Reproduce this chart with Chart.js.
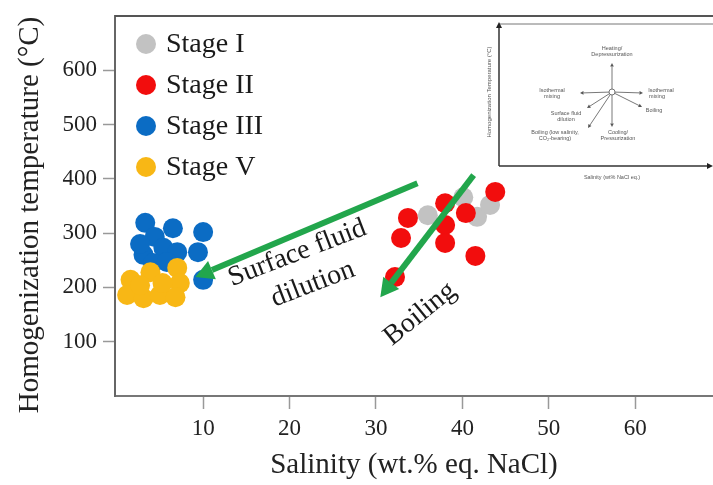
<!DOCTYPE html>
<html>
<head>
<meta charset="utf-8">
<script src="https://cdn.jsdelivr.net/npm/chart.js@4.4.1/dist/chart.umd.min.js"></script>
<style>
  html, body { margin: 0; padding: 0; background: #fff; overflow: hidden; }
  canvas { display: block; }
</style>
</head>
<body>
<canvas id="chart" width="713" height="485"></canvas>
<script>
// Fluid inclusion data: salinity (wt.% NaCl eq.) vs homogenization temperature (°C)
const seriesNames = ['Stage I', 'Stage II', 'Stage III', 'Stage V'];

const stage1Salinity = [36.0, 40.1, 41.7, 43.2];
const stage1Temp     = [333, 366, 330, 352];

const stage2Salinity = [43.8, 38.0, 33.7, 40.4, 38.0, 32.9, 38.0, 41.5, 32.2];
const stage2Temp     = [376, 355, 328, 337, 315, 291, 282, 258, 219];

const stage3Salinity = [3.3, 6.5, 10.0, 4.4, 9.4, 3.1, 5.4, 7.0, 4.2, 5.8, 10.0, 2.7];
const stage3Temp     = [319, 309, 302, 293, 265, 260, 273, 265, 245, 247, 214, 280];

const stage5Salinity = [1.6, 3.9, 7.0, 7.3, 1.2, 3.1, 5.0, 6.8, 5.3, 2.7];
const stage5Temp     = [214, 228, 236, 208, 186, 180, 186, 182, 208, 204];

const xTickValues = [10, 20, 30, 40, 50, 60];
const yTickValues = [100, 200, 300, 400, 500, 600];

const xTitle = 'Salinity (wt.% eq. NaCl)';
const yTitle = 'Homogenization temperature (\u00B0C)';

// Evolution trends drawn as arrows, in data units (salinity, temperature)
const trendArrows = [
  { from: [34.8, 392], to: [9.1, 219] },
  { from: [41.3, 407], to: [30.5, 182] }
];
const trendLabels = [
  { text: 'Surface fluid', at: [20.9, 263], angle: -21 },
  { text: 'dilution',      at: [22.7, 206], angle: -21 },
  { text: 'Boiling',       at: [35.1, 151], angle: -39 }
];

const palette = ['#c2c2c2', '#f20d0d', '#0b6cc4', '#f8b715'];
const serif = "'Liberation Serif', 'Times New Roman', serif";

function pairs(xs, ys) { return xs.map((x, i) => ({ x: x, y: ys[i] })); }

const datasets = [
  { label: seriesNames[0], data: pairs(stage1Salinity, stage1Temp), order: 4 },
  { label: seriesNames[1], data: pairs(stage2Salinity, stage2Temp), order: 3 },
  { label: seriesNames[2], data: pairs(stage3Salinity, stage3Temp), order: 2 },
  { label: seriesNames[3], data: pairs(stage5Salinity, stage5Temp), order: 1 }
].map((d, i) => Object.assign(d, {
  backgroundColor: palette[i],
  borderColor: palette[i],
  borderWidth: 0,
  pointRadius: 10,
  pointHoverRadius: 10
}));

// Top edge of the plot frame and the vertical axis title
const frame = {
  id: 'frame',
  afterDraw(chart) {
    const { ctx, chartArea: a } = chart;
    ctx.save();
    ctx.strokeStyle = '#555';
    ctx.lineWidth = 2;
    ctx.beginPath();
    ctx.moveTo(a.left, a.top);
    ctx.lineTo(a.right, a.top);
    ctx.stroke();

    ctx.translate(30, 215);
    ctx.rotate(-Math.PI / 2);
    ctx.fillStyle = '#222';
    ctx.font = '29px ' + serif;
    ctx.textAlign = 'center';
    ctx.textBaseline = 'middle';
    ctx.fillText(yTitle, 0, 0);
    ctx.restore();
  }
};

// Vertical legend inside the plot area
const stageLegend = {
  id: 'stageLegend',
  afterDraw(chart) {
    const { ctx } = chart;
    ctx.save();
    ctx.font = '28px ' + serif;
    ctx.textBaseline = 'middle';
    ctx.textAlign = 'left';
    chart.data.datasets.forEach((ds, i) => {
      const cy = 44 + i * 41;
      ctx.fillStyle = ds.backgroundColor;
      ctx.beginPath();
      ctx.arc(146, cy, 10, 0, Math.PI * 2);
      ctx.fill();
      ctx.fillStyle = '#1a1a1a';
      ctx.fillText(ds.label, 166, cy + 1);
    });
    ctx.restore();
  }
};

function arrow(ctx, x1, y1, x2, y2, width, head, halfW) {
  const ang = Math.atan2(y2 - y1, x2 - x1);
  const bx = x2 - head * Math.cos(ang), by = y2 - head * Math.sin(ang);
  ctx.lineWidth = width;
  ctx.beginPath();
  ctx.moveTo(x1, y1);
  ctx.lineTo(bx, by);
  ctx.stroke();
  ctx.beginPath();
  ctx.moveTo(x2, y2);
  ctx.lineTo(bx + halfW * Math.sin(ang), by - halfW * Math.cos(ang));
  ctx.lineTo(bx - halfW * Math.sin(ang), by + halfW * Math.cos(ang));
  ctx.closePath();
  ctx.fill();
}

// Green trend arrows and their labels
const trends = {
  id: 'trends',
  afterDatasetsDraw(chart) {
    const { ctx, scales: { x, y } } = chart;
    ctx.save();
    ctx.strokeStyle = '#22a64c';
    ctx.fillStyle = '#22a64c';
    ctx.lineCap = 'butt';
    trendArrows.forEach(a => {
      arrow(ctx, x.getPixelForValue(a.from[0]), y.getPixelForValue(a.from[1]),
                 x.getPixelForValue(a.to[0]), y.getPixelForValue(a.to[1]), 6, 18, 10);
    });
    ctx.fillStyle = '#1a1a1a';
    ctx.font = '28px ' + serif;
    ctx.textAlign = 'center';
    ctx.textBaseline = 'middle';
    trendLabels.forEach(t => {
      ctx.save();
      ctx.translate(x.getPixelForValue(t.at[0]), y.getPixelForValue(t.at[1]));
      ctx.rotate(t.angle * Math.PI / 180);
      ctx.fillText(t.text, 0, 0);
      ctx.restore();
    });
    ctx.restore();
  }
};

// Small schematic of fluid evolution paths in the upper right corner
const schematic = {
  id: 'schematic',
  afterDraw(chart) {
    const ctx = chart.ctx;
    const L = 499, T = 24, B = 166, R = 713;
    const cx = 612, cy = 92;
    ctx.save();
    ctx.fillStyle = '#fff';
    ctx.fillRect(L, T, R - L, B - T);
    ctx.strokeStyle = '#777';
    ctx.lineWidth = 1;
    ctx.beginPath();
    ctx.moveTo(L, T); ctx.lineTo(R, T);
    ctx.stroke();
    ctx.strokeStyle = '#333';
    ctx.fillStyle = '#222';
    arrow(ctx, L, B, L, T - 2, 1.5, 6, 3);
    arrow(ctx, L, B, R, B, 1.5, 6, 3);

    ctx.strokeStyle = '#555';
    ctx.fillStyle = '#555';
    const ends = [[612, 63], [612, 127], [580, 93], [643, 93], [642, 107], [587, 108], [588, 128]];
    ends.forEach(e => arrow(ctx, cx, cy, e[0], e[1], 0.8, 3.5, 1.8));
    ctx.beginPath();
    ctx.lineWidth = 0.8;
    ctx.arc(cx, cy, 3, 0, Math.PI * 2);
    ctx.fillStyle = '#fff';
    ctx.fill();
    ctx.stroke();

    ctx.fillStyle = '#555';
    ctx.font = "5.5px 'Liberation Sans', Arial, sans-serif";
    ctx.textBaseline = 'middle';
    ctx.textAlign = 'center';
    const texts = [
      ['Heating/', 612, 48], ['Depressurization', 612, 54],
      ['Isothermal', 552, 90], ['mixing', 552, 96],
      ['Isothermal', 661, 90], ['mixing', 657, 96],
      ['Boiling', 654, 110],
      ['Surface fluid', 566, 113], ['dilution', 566, 119],
      ['Boiling (low salinity,', 555, 132], ['CO\u2082-bearing)', 555, 138],
      ['Cooling/', 618, 132], ['Pressurization', 618, 138],
      ['Salinity (wt% NaCl eq.)', 612, 177]
    ];
    texts.forEach(t => ctx.fillText(t[0], t[1], t[2]));
    ctx.save();
    ctx.translate(489, 92);
    ctx.rotate(-Math.PI / 2);
    ctx.font = "6px 'Liberation Sans', Arial, sans-serif";
    ctx.fillText('Homogenization Temperature (\u00B0C)', 0, 0);
    ctx.restore();
    ctx.restore();
  }
};

new Chart(document.getElementById('chart'), {
  type: 'scatter',
  data: { datasets: datasets },
  options: {
    responsive: false,
    devicePixelRatio: 1,
    animation: false,
    events: [],
    layout: { autoPadding: false, padding: { left: 0, top: 16, right: 0, bottom: 2 } },
    plugins: { legend: { display: false }, tooltip: { enabled: false } },
    scales: {
      x: {
        type: 'linear',
        min: -0.2,
        max: 69,
        afterBuildTicks: s => { s.ticks = xTickValues.map(v => ({ value: v })); },
        afterFit: s => { s.height = 87; s.paddingLeft = 0; s.paddingRight = 0; },
        grid: { drawOnChartArea: false, drawTicks: true, tickLength: 13, tickColor: '#999', tickWidth: 1.5 },
        border: { display: true, color: '#777', width: 2 },
        ticks: { color: '#222', font: { family: serif, size: 23 }, padding: 6, maxRotation: 0 },
        title: { display: true, text: xTitle, color: '#222',
                 font: { family: serif, size: 29 }, padding: 0 }
      },
      y: {
        type: 'linear',
        min: 0,
        max: 700,
        afterBuildTicks: s => { s.ticks = yTickValues.map(v => ({ value: v })); },
        afterFit: s => { s.width = 115; s.paddingTop = 0; s.paddingBottom = 0; },
        grid: { drawOnChartArea: false, drawTicks: true, tickLength: 12, tickColor: '#999', tickWidth: 1.5 },
        border: { display: true, color: '#666', width: 2 },
        ticks: { color: '#222', font: { family: serif, size: 23 }, padding: 6 },
        title: { display: false }
      }
    }
  },
  plugins: [frame, trends, stageLegend, schematic]
});
</script>
</body>
</html>
